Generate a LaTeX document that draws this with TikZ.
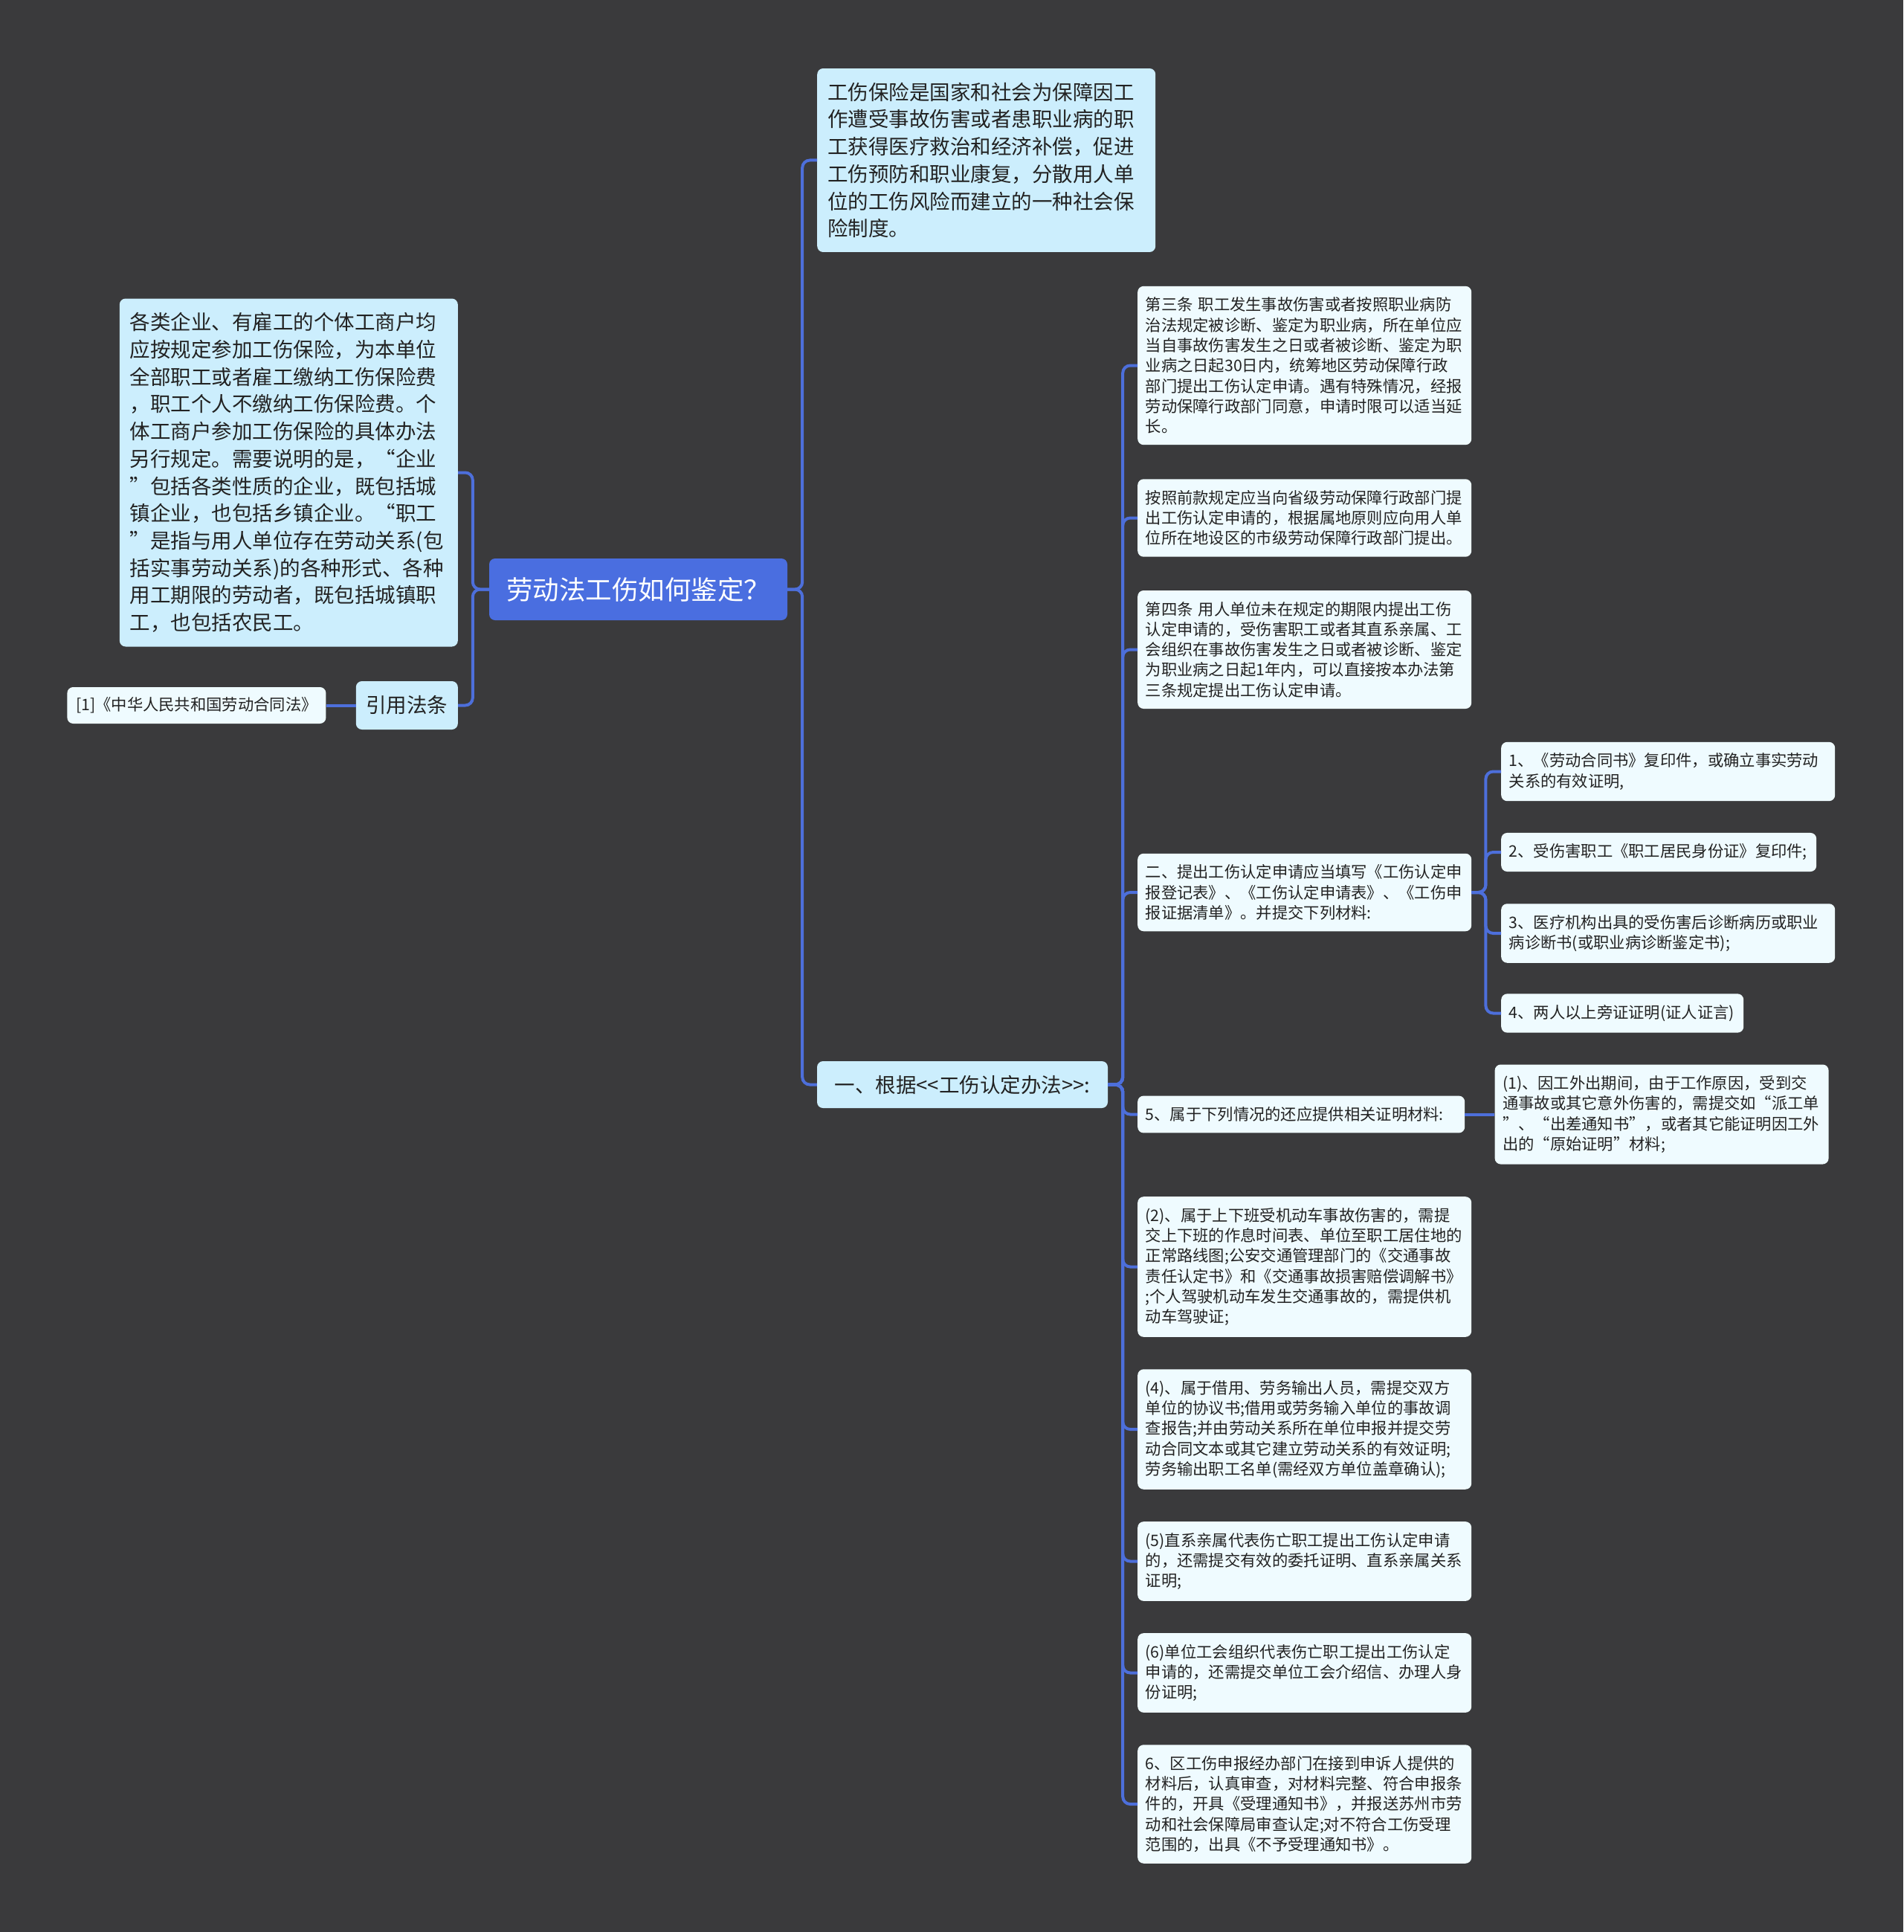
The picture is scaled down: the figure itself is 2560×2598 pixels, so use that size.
\documentclass[tikz,border=0pt]{standalone}
\usepackage{fontspec}
\newfontfamily\cjkfont{Noto Sans CJK SC}
\usetikzlibrary{positioning}
\definecolor{bg}{HTML}{3A3A3C}
\definecolor{rootblue}{HTML}{4A6EE0}
\definecolor{linkblue}{HTML}{4D6FDB}
\definecolor{topicblue}{HTML}{CCEEFD}
\definecolor{leafblue}{HTML}{EFFBFF}
\definecolor{ink}{HTML}{222222}
\newcommand{\rootfont}{\fontsize{35.5}{42}\selectfont}
\newcommand{\topicfont}{\fontsize{27.5}{36.7}\selectfont}
\newcommand{\leaffont}{\fontsize{21.3}{27.3}\selectfont}

\begin{document}
\begin{tikzpicture}[x=1pt, y=-1pt,
    root/.style={fill=rootblue, text=white, rounded corners=8pt, font=\cjkfont\rootfont, minimum width=401pt, minimum height=83pt},
    topic/.style={fill=topicblue, text=ink, rounded corners=8pt, font=\cjkfont\topicfont, inner xsep=14pt, inner ysep=19pt},
    note/.style={topic, align=left, text width=#1},
    note/.default=427pt,
    leafbase/.style={fill=leafblue, text=ink, rounded corners=8pt, font=\cjkfont\leaffont, inner xsep=10.5pt, inner ysep=15pt},
    leaf/.style={leafbase, align=left, text width=#1},
    leaf/.default=428pt,
    link/.style={draw=linkblue, line width=4pt, rounded corners=10pt}
  ]
    \fill[bg] (0,0) rectangle (2560,2598);

    \node[root] (root) at (858.5,792.5) {劳动法工伤如何鉴定？};
    \node[note, anchor=west] (intro) at (1099,215.5) {工伤保险是国家和社会为保障因工\\作遭受事故伤害或者患职业病的职\\工获得医疗救治和经济补偿，促进\\工伤预防和职业康复，分散用人单\\位的工伤风险而建立的一种社会保\\险制度。};
    \node[note, anchor=east] (scope) at (616,635.5) {各类企业、有雇工的个体工商户均\\应按规定参加工伤保险，为本单位\\全部职工或者雇工缴纳工伤保险费\\，职工个人不缴纳工伤保险费。个\\体工商户参加工伤保险的具体办法\\另行规定。需要说明的是，“企业\\”包括各类性质的企业，既包括城\\镇企业，也包括乡镇企业。“职工\\”是指与用人单位存在劳动关系(包\\括实事劳动关系)的各种形式、各种\\用工期限的劳动者，既包括城镇职\\工，也包括农民工。};
    \node[topic, minimum width=137pt, minimum height=65pt, inner xsep=4pt, inner ysep=4pt, anchor=east] (cite) at (616,948.5) {引用法条};
    \node[leafbase, minimum width=348pt, minimum height=49pt, inner xsep=4pt, inner ysep=4pt, left=40pt of cite] (law) {[1]《中华人民共和国劳动合同法》};
    \node[topic, minimum width=391pt, minimum height=63pt, inner xsep=4pt, inner ysep=4pt] (basis) at (1294.5,1458.5) {一、根据<<工伤认定办法>>:};

    \node[leaf, anchor=west] (art3) at (1530,491.5) {第三条 职工发生事故伤害或者按照职业病防\\治法规定被诊断、鉴定为职业病，所在单位应\\当自事故伤害发生之日或者被诊断、鉴定为职\\业病之日起30日内，统筹地区劳动保障行政\\部门提出工伤认定申请。遇有特殊情况，经报\\劳动保障行政部门同意，申请时限可以适当延\\长。};
    \node[leaf, anchor=west] (prov) at (1530,696.5) {按照前款规定应当向省级劳动保障行政部门提\\出工伤认定申请的，根据属地原则应向用人单\\位所在地设区的市级劳动保障行政部门提出。};
    \node[leaf, anchor=west] (art4) at (1530,873.5) {第四条 用人单位未在规定的期限内提出工伤\\认定申请的，受伤害职工或者其直系亲属、工\\会组织在事故伤害发生之日或者被诊断、鉴定\\为职业病之日起1年内，可以直接按本办法第\\三条规定提出工伤认定申请。};
    \node[leaf, anchor=west] (forms) at (1530,1200) {二、提出工伤认定申请应当填写《工伤认定申\\报登记表》、《工伤认定申请表》、《工伤申\\报证据清单》。并提交下列材料:};
    \node[leaf=419pt, anchor=west] (extra) at (1530,1498.5) {5、属于下列情况的还应提供相关证明材料:};
    \node[leaf, anchor=west] (comm) at (1530,1703.5) {(2)、属于上下班受机动车事故伤害的，需提\\交上下班的作息时间表、单位至职工居住地的\\正常路线图;公安交通管理部门的《交通事故\\责任认定书》和《交通事故损害赔偿调解书》\\;个人驾驶机动车发生交通事故的，需提供机\\动车驾驶证;};
    \node[leaf, anchor=west] (lend) at (1530,1922) {(4)、属于借用、劳务输出人员，需提交双方\\单位的协议书;借用或劳务输入单位的事故调\\查报告;并由劳动关系所在单位申报并提交劳\\动合同文本或其它建立劳动关系的有效证明;\\劳务输出职工名单(需经双方单位盖章确认);};
    \node[leaf, anchor=west] (kin) at (1530,2099.5) {(5)直系亲属代表伤亡职工提出工伤认定申请\\的，还需提交有效的委托证明、直系亲属关系\\证明;};
    \node[leaf, anchor=west] (union) at (1530,2249.5) {(6)单位工会组织代表伤亡职工提出工伤认定\\申请的，还需提交单位工会介绍信、办理人身\\份证明;};
    \node[leaf, anchor=west] (accept) at (1530,2426) {6、区工伤申报经办部门在接到申诉人提供的\\材料后，认真审查，对材料完整、符合申报条\\件的，开具《受理通知书》，并报送苏州市劳\\动和社会保障局审查认定;对不符合工伤受理\\范围的，出具《不予受理通知书》。};

    \node[leaf, anchor=west] (m1) at (2019,1037.5) {1、《劳动合同书》复印件，或确立事实劳动\\关系的有效证明,};
    \node[leaf=403pt, anchor=west] (m2) at (2019,1146) {2、受伤害职工《职工居民身份证》复印件;};
    \node[leaf, anchor=west] (m3) at (2019,1255) {3、医疗机构出具的受伤害后诊断病历或职业\\病诊断书(或职业病诊断鉴定书);};
    \node[leaf=305pt, anchor=west] (m4) at (2019,1362.5) {4、两人以上旁证证明(证人证言)};
    \node[leaf, right=40pt of extra] (trip) {(1)、因工外出期间，由于工作原因，受到交\\通事故或其它意外伤害的，需提交如“派工单\\”、“出差通知书”，或者其它能证明因工外\\出的“原始证明”材料;};

    \foreach \c in {intro,basis}
      \draw[link] (root.east) -- ++(20,0) |- (\c.west);
    \foreach \c in {scope,cite}
      \draw[link] (root.west) -- ++(-22,0) |- (\c.east);
    \draw[link] (cite.west) -- (law.east);
    \foreach \c in {art3,prov,art4,forms,extra,comm,lend,kin,union,accept}
      \draw[link] (basis.east) -- ++(20,0) |- (\c.west);
    \foreach \c in {m1,m2,m3,m4}
      \draw[link] (forms.east) -- ++(19,0) |- (\c.west);
    \draw[link] (extra.east) -- (trip.west);
  \end{tikzpicture}
\end{document}
